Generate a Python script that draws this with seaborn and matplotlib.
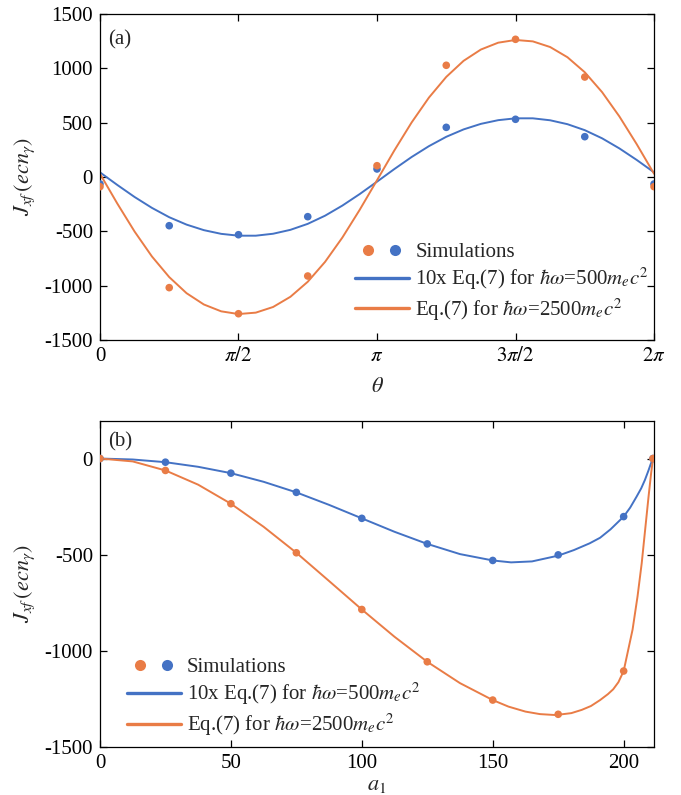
import numpy as np
import matplotlib
matplotlib.use("Agg")
import matplotlib.pyplot as plt
import seaborn as sns
from matplotlib.lines import Line2D
from matplotlib.legend_handler import HandlerTuple

BLUE = "#4472C4"
ORANGE = "#E97C46"

# ---- panel (a): Jxf vs theta ----
theta_sim = np.array([0, 0.25, 0.5, 0.75, 1, 1.25, 1.5, 1.75, 2]) * np.pi
sim_a_500 = [-64, -448, -531, -365, 74, 457, 531, 371, -64]
sim_a_2500 = [-89, -1018, -1258, -911, 104, 1028, 1267, 920, -89]

theta_eq = np.linspace(0, 2, 33) * np.pi
eq_a_500 = [43, -73, -184, -284, -370, -438, -489, -523, -540, -540, -522, -486,
            -431, -356, -263, -157, -43, 73, 184, 284, 370, 438, 489, 523, 540,
            540, 522, 486, 431, 356, 263, 157, 43]
eq_a_2500 = [30, -244, -502, -731, -921, -1069, -1173, -1236, -1261, -1248, -1196,
             -1102, -964, -781, -557, -302, -30, 244, 502, 731, 921, 1069, 1173,
             1236, 1261, 1248, 1196, 1102, 964, 781, 557, 302, 30]

# ---- panel (b): Jxf vs a1 ----
a1_sim = [0, 25, 50, 75, 100, 125, 150, 175, 200, 211.2]
sim_b_500 = [0, -19, -76, -176, -311, -444, -530, -501, -302, 0]
sim_b_2500 = [0, -62, -235, -490, -785, -1057, -1256, -1330, -1105, 0]

a1_eq_500 = [0, 12.5, 25, 37.5, 50, 62.5, 75, 87.5, 100, 112.5, 125, 137.5, 150,
             157, 165, 175, 181, 187, 191, 195, 200,
             202.5, 204.9, 206.7, 208.1, 209.4, 210.3, 211.2]
eq_b_500 = [0, -5, -19, -43, -76, -121, -176, -241, -311, -381, -444, -497, -530,
            -540, -535, -505, -476, -441, -412, -368, -302,
            -255, -199, -155, -112, -65, -30, 0]
a1_eq_2500 = [0, 12.5, 25, 37.5, 50, 62.5, 75, 87.5, 100, 112.5, 125, 137.5, 150,
              156, 162.5, 168, 174, 180, 184, 187.5, 191, 194, 196, 198, 200,
              201.5, 203.4, 205.3, 206.9, 208.2, 209.5, 210.5, 211.2]
eq_b_2500 = [0, -15, -62, -136, -235, -355, -490, -637, -785, -927, -1057, -1168, -1256,
             -1290, -1316, -1329, -1334, -1324, -1307, -1287, -1256, -1225, -1200, -1163, -1105,
             -1010, -890, -717, -544, -371, -199, -75, 0]

sns.set_theme(style="ticks")
plt.rcParams["font.family"] = ["Liberation Serif", "DejaVu Serif"]
plt.rcParams["mathtext.fontset"] = "stix"

FS = 15

fig = plt.figure(figsize=(6.81, 7.95), dpi=100)
ax1 = fig.add_axes([0.1468, 0.5723, 0.8136, 0.4101])
ax2 = fig.add_axes([0.1468, 0.0604, 0.8136, 0.4100])


def draw(ax, xe1, ye1, xe2, ye2, xs, ys1, ys2):
    sns.lineplot(x=xe1, y=ye1, ax=ax, color=BLUE, lw=1.4, zorder=2)
    sns.lineplot(x=xe2, y=ye2, ax=ax, color=ORANGE, lw=1.4, zorder=2)
    sns.scatterplot(x=xs, y=ys1, ax=ax, color=BLUE, s=30, edgecolor="none", zorder=3)
    sns.scatterplot(x=xs, y=ys2, ax=ax, color=ORANGE, s=30, edgecolor="none", zorder=3)


def style(ax):
    for sp in ax.spines.values():
        sp.set_visible(True)
        sp.set_color("black")
        sp.set_linewidth(0.9)
    ax.tick_params(direction="in", top=True, right=True, length=5, width=0.9,
                   labelsize=FS, pad=5, colors="black")


def legend(ax, anchor):
    sim = (Line2D([], [], ls="none", marker="o", ms=8, mfc=ORANGE, mec="none"),
           Line2D([], [], ls="none", marker="o", ms=8, mfc=BLUE, mec="none"))
    handles = [sim, Line2D([], [], color=BLUE, lw=2.4), Line2D([], [], color=ORANGE, lw=2.4)]
    labels = ["Simulations",
              r"10x Eq.(7) for $\hbar\omega$=500$m_ec^2$",
              r"Eq.(7) for $\hbar\omega$=2500$m_ec^2$"]
    ax.legend(handles, labels, handler_map={tuple: HandlerTuple(ndivide=None, pad=0.0)},
              loc="upper left", bbox_to_anchor=anchor, frameon=False, fontsize=FS,
              handlelength=2.6, handletextpad=0.3, labelspacing=0.2,
              borderpad=0, borderaxespad=0)


draw(ax1, theta_eq, eq_a_500, theta_eq, eq_a_2500, theta_sim, sim_a_500, sim_a_2500)
ax1.set_xlim(0, 2 * np.pi)
ax1.set_ylim(-1500, 1500)
ax1.set_xticks(np.array([0, 0.5, 1, 1.5, 2]) * np.pi)
ax1.set_xticklabels(["0", r"$\pi/2$", r"$\pi$", r"$3\pi/2$", r"$2\pi$"])
ax1.set_yticks([-1500, -1000, -500, 0, 500, 1000, 1500])
ax1.set_yticklabels(["-1500", "-1000", "-500", "0", "500", "1000", "1500"])
ax1.set_xlabel(r"$\theta$", fontsize=16)
ax1.set_ylabel(r"$J_{xf}\,(ecn_{\gamma})$", fontsize=16)
ax1.xaxis.set_label_coords(0.5, -0.115)
ax1.yaxis.set_label_coords(-0.114, 0.5)
ax1.text(0.015, 0.92, "(a)", transform=ax1.transAxes, fontsize=FS, va="center")
style(ax1)
legend(ax1, (0.46, 0.30))

draw(ax2, a1_eq_500, eq_b_500, a1_eq_2500, eq_b_2500, a1_sim, sim_b_500, sim_b_2500)
ax2.set_xlim(0, 211.6)
ax2.set_ylim(-1500, 195)
ax2.set_xticks([0, 50, 100, 150, 200])
ax2.set_yticks([-1500, -1000, -500, 0])
ax2.set_yticklabels(["-1500", "-1000", "-500", "0"])
ax2.set_xlabel(r"$a_{\mathit{1}}$", fontsize=16)
ax2.set_ylabel(r"$J_{xf}\,(ecn_{\gamma})$", fontsize=16)
ax2.xaxis.set_label_coords(0.5, -0.09)
ax2.yaxis.set_label_coords(-0.114, 0.5)
ax2.text(0.015, 0.937, "(b)", transform=ax2.transAxes, fontsize=FS, va="center")
style(ax2)
legend(ax2, (0.048, 0.275))

fig.savefig("out.png", dpi=100)
